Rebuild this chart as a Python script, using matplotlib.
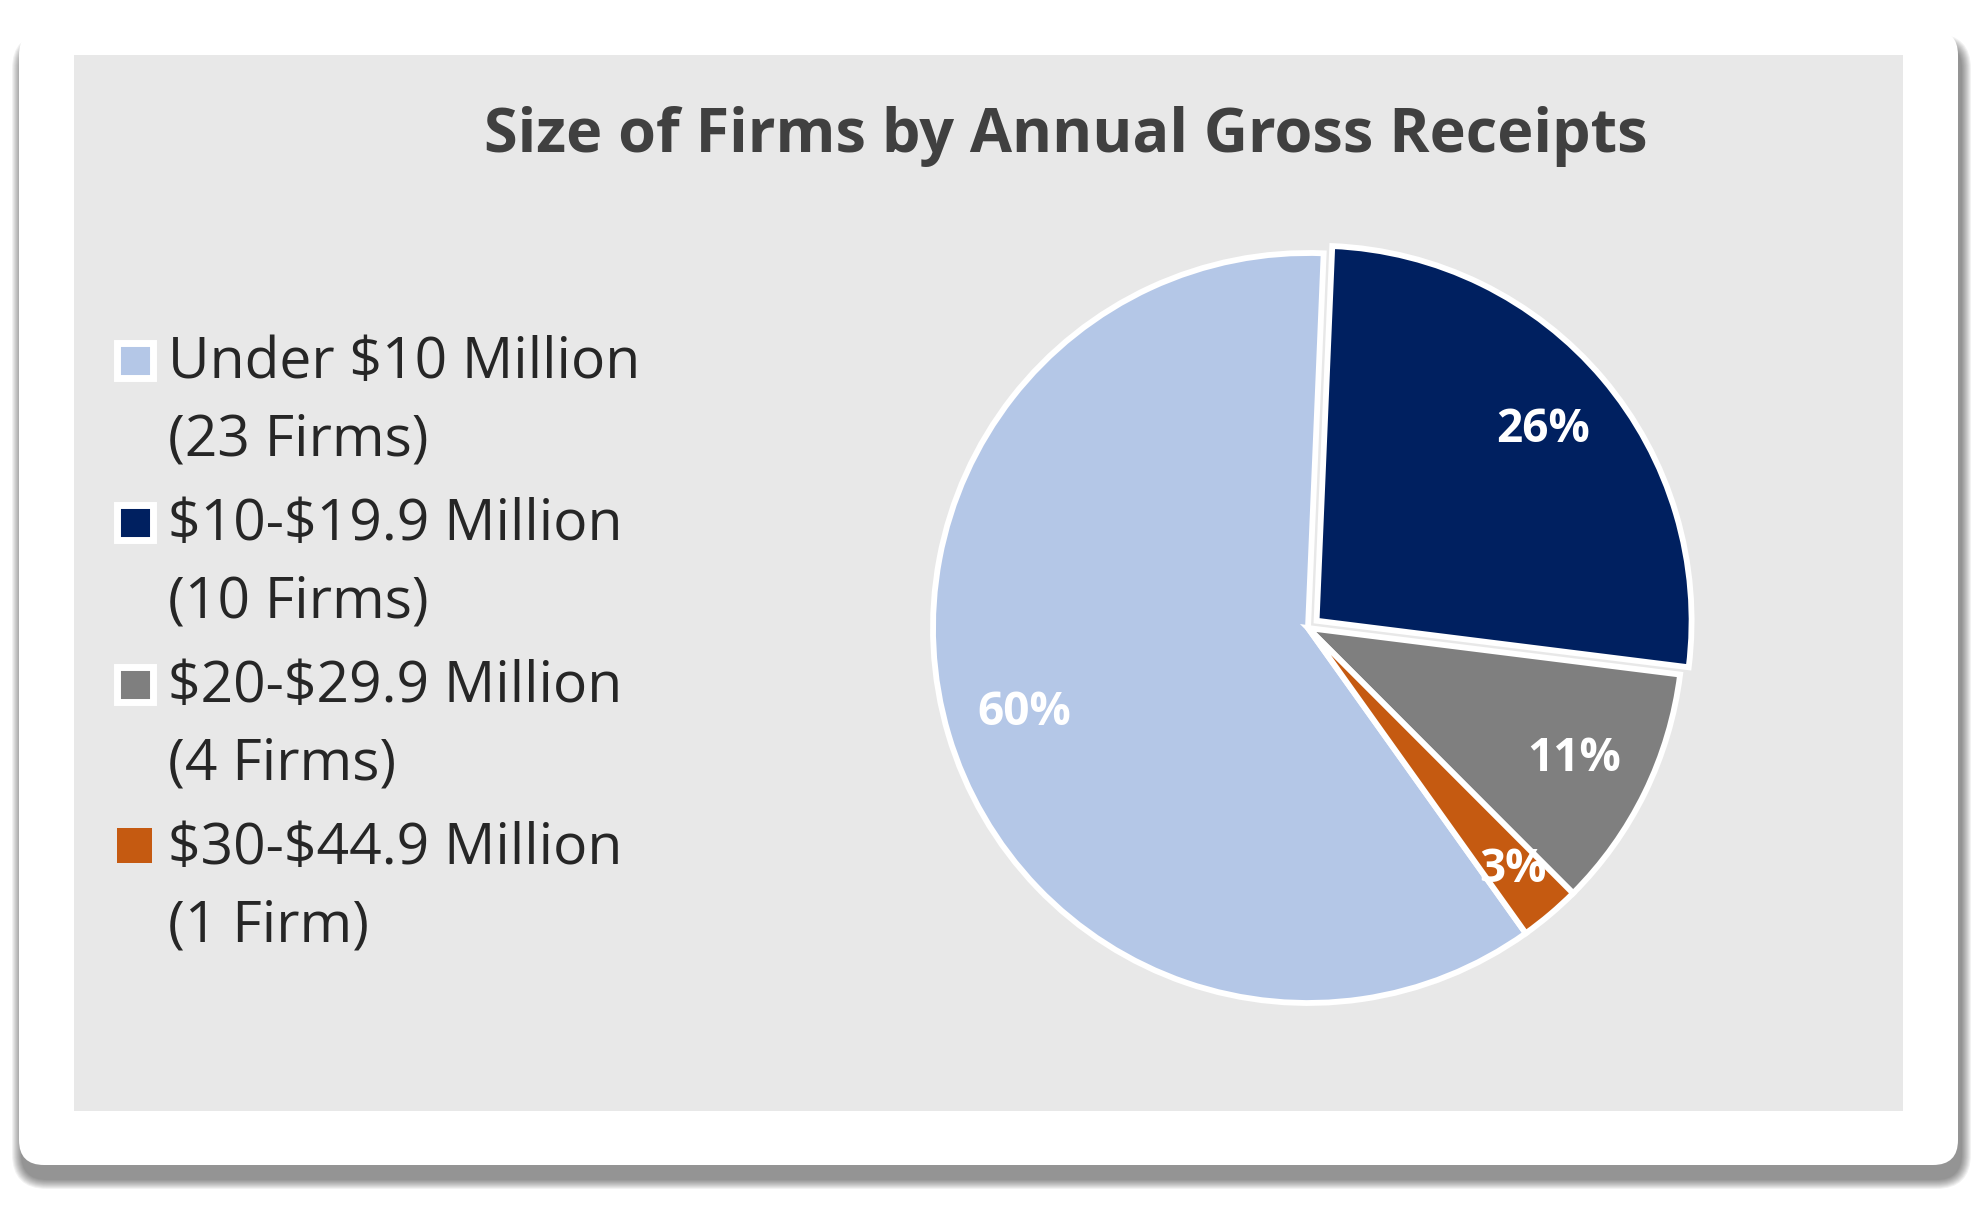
import numpy as np
import matplotlib
matplotlib.use("Agg")
import matplotlib.pyplot as plt
from matplotlib.patches import FancyBboxPatch, Rectangle

plt.rcParams["text.parse_math"] = False  # keep the dollar signs literal

# data
categories = ["Under $10 Million", "$10-$19.9 Million", "$20-$29.9 Million", "$30-$44.9 Million"]
firm_labels = ["(23 Firms)", "(10 Firms)", "(4 Firms)", "(1 Firm)"]
firms = [23, 10, 4, 1]
pct_labels = ["60%", "26%", "11%", "3%"]
colors = ["#B4C7E7", "#002060", "#7F7F7F", "#C55A11"]
explode = [0, 0.03, 0, 0]

FONT = "Open Sans"
W, H = 1978, 1205

fig = plt.figure(figsize=(W / 100, H / 100), dpi=100, facecolor="white")

# background layer in pixel coords
bg = fig.add_axes([0, 0, 1, 1])
bg.set_xlim(0, W)
bg.set_ylim(H, 0)
bg.axis("off")

# card shadow
cx0, cy0, cx1, cy1 = 19, 30, 1958, 1165
for k in range(10):
    s = 10 - k
    bg.add_patch(FancyBboxPatch((cx0 + 3 - s, cy0 + 14 - s), (cx1 - cx0) + 2 * s, (cy1 - cy0) + 2 * s,
                                boxstyle=f"round,pad=0,rounding_size={25 + s}",
                                fc="black", ec="none", alpha=0.05))
# white card
bg.add_patch(FancyBboxPatch((cx0, cy0), cx1 - cx0, cy1 - cy0,
                            boxstyle="round,pad=0,rounding_size=25", fc="white", ec="none"))
# grey chart area
bg.add_patch(Rectangle((74, 55), 1903 - 74, 1111 - 55, fc="#E8E8E8", ec="none"))

# title
bg.text(1066, 152, "Size of Firms by Annual Gross Receipts", ha="center", va="baseline",
        fontsize=44, fontweight="bold", color="#404040", family=FONT)

# legend (two lines per entry)
for i, (cat, fl, col) in enumerate(zip(categories, firm_labels, colors)):
    base = 378 + i * 162
    if i < 3:
        bg.add_patch(Rectangle((134.5 - 18, base - 18 - 17.5), 36, 35, fc=col, ec="white", lw=5))
    else:
        bg.add_patch(Rectangle((134.5 - 17.5, base - 18.5 - 17.5), 35, 35, fc=col, ec="none"))
    bg.text(168, base, cat, ha="left", va="baseline", fontsize=41, color="#262626", family=FONT)
    bg.text(168, base + 78, fl, ha="left", va="baseline", fontsize=41, color="#262626", family=FONT)

# pie
pcx, pcy, r = 1308, 628, 375
half = 1.12 * r
ax = fig.add_axes([(pcx - half) / W, 1 - (pcy + half) / H, 2 * half / W, 2 * half / H])
ax.set_facecolor("none")
lab_iter = iter(pct_labels)
wedges, texts, autotexts = ax.pie(firms, colors=colors, explode=explode, startangle=-54.5,
                                  counterclock=False, radius=1,
                                  autopct=lambda p: next(lab_iter), pctdistance=0.79,
                                  wedgeprops=dict(edgecolor="white", linewidth=4.2),
                                  textprops=dict(color="white", fontsize=33, fontweight="bold",
                                                 family=FONT))
# the small slice label sits a bit further out
x, y = autotexts[3].get_position()
autotexts[3].set_position((x * 0.845 / 0.79, y * 0.845 / 0.79))
ax.set_xlim(-1.12, 1.12)
ax.set_ylim(-1.12, 1.12)
ax.set_aspect("equal")
ax.axis("off")

fig.savefig("out.png", dpi=100, facecolor="white")
